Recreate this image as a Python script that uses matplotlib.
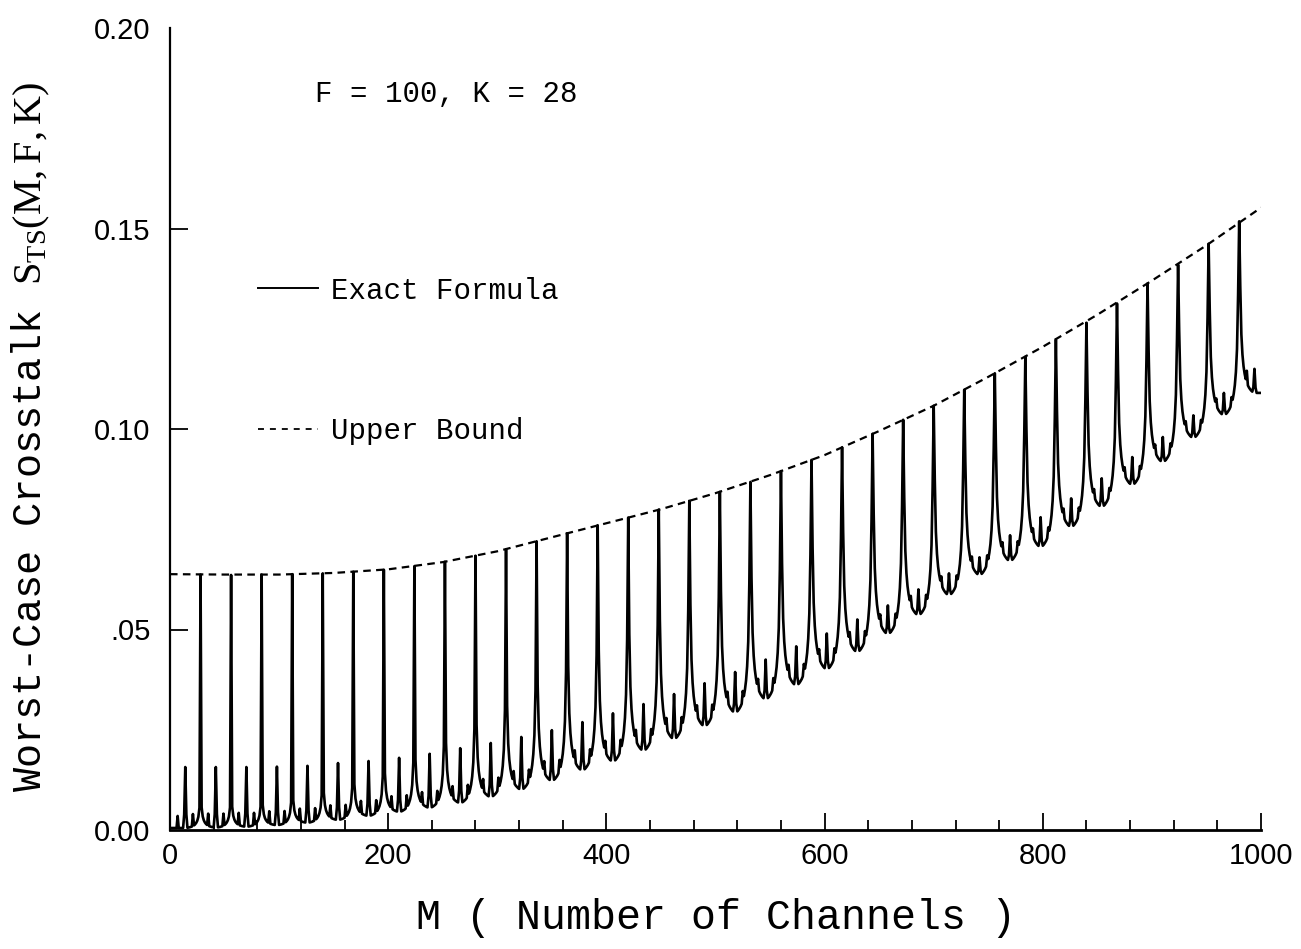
import numpy as np
import matplotlib
matplotlib.use("Agg")
import matplotlib.pyplot as plt
from matplotlib.lines import Line2D

# ---------------- data ----------------
peak_M = [28, 56, 84, 112, 140, 168, 196, 224, 252, 280, 308, 336, 364, 392,
          420, 448, 476, 504, 532, 560, 588, 616, 644, 672, 700, 728, 756, 784,
          812, 840, 868, 896, 924, 952, 980]
peak_vals = [0.0637, 0.0636, 0.0637, 0.0638, 0.0640, 0.0644, 0.0649, 0.0658,
             0.0669, 0.0684, 0.0700, 0.0720, 0.0740, 0.0760, 0.0779, 0.0799,
             0.0821, 0.0843, 0.0868, 0.0895, 0.0923, 0.0954, 0.0988, 0.1023,
             0.1058, 0.1098, 0.1139, 0.1180, 0.1223, 0.1265, 0.1313, 0.1363,
             0.1410, 0.1462, 0.1518]
# relative height of the point next to each main peak
peak_shoulder = [0.08, 0.08, 0.08, 0.09, 0.11, 0.13, 0.16, 0.20, 0.25, 0.30,
                 0.35, 0.40, 0.44, 0.47, 0.50, 0.52, 0.54, 0.55, 0.56, 0.57,
                 0.58, 0.59, 0.60, 0.60, 0.61, 0.61, 0.62, 0.62, 0.62, 0.62,
                 0.62, 0.62, 0.62, 0.62, 0.62]
# fall-off of a peak flank, 1..13 channels away from the peak
flank_profile = [1.0, 0.55, 0.36, 0.25, 0.18, 0.13, 0.095, 0.07, 0.05,
                 0.035, 0.022, 0.012, 0.005]

# valley floor of each period (between two main peaks)
valley_vals = [0.0005, 0.0006, 0.0008, 0.0012, 0.0018, 0.0025, 0.0035, 0.0045,
               0.0055, 0.0067, 0.0082, 0.0100, 0.0122, 0.0148, 0.0170, 0.0197,
               0.0226, 0.0258, 0.0292, 0.0325, 0.0360, 0.0400, 0.0443, 0.0488,
               0.0535, 0.0585, 0.0635, 0.0670, 0.0705, 0.0755, 0.0805, 0.0860,
               0.0917, 0.0977, 0.1034, 0.1090]
# secondary spike in the middle of each period
mid_vals = [0.0157, 0.0157, 0.0157, 0.0158, 0.0160, 0.0167, 0.0172, 0.0180,
            0.0190, 0.0204, 0.0217, 0.0232, 0.0249, 0.0269, 0.0291, 0.0314,
            0.0339, 0.0366, 0.0394, 0.0425, 0.0458, 0.0490, 0.0525, 0.0560,
            0.0600, 0.0640, 0.0680, 0.0735, 0.0780, 0.0827, 0.0877, 0.0930,
            0.0980, 0.1034, 0.1090, 0.1150]
# small bumps at the quarter points of each period
quarter_excess = [0.0030, 0.0030, 0.0030, 0.0030, 0.0030, 0.0030, 0.0030,
                  0.0030, 0.0028, 0.0028, 0.0028, 0.0027, 0.0027, 0.0026,
                  0.0026, 0.0025, 0.0025, 0.0024, 0.0024, 0.0023, 0.0023,
                  0.0022, 0.0022, 0.0021, 0.0021, 0.0020, 0.0020, 0.0020,
                  0.0019, 0.0019, 0.0018, 0.0018, 0.0018, 0.0017, 0.0017,
                  0.0030]

# upper bound
bound_M = [0, 50, 100, 150, 200, 250, 300, 350, 400, 450, 500, 550, 600, 650,
           700, 750, 800, 850, 900, 950, 1000]
bound_vals = [0.0638, 0.0637, 0.0637, 0.0641, 0.0650, 0.0668, 0.0695, 0.0730,
              0.0765, 0.0800, 0.0840, 0.0885, 0.0935, 0.0995, 0.1058, 0.1130,
              0.1205, 0.1285, 0.1370, 0.1458, 0.1552]

x_ticks = [0, 200, 400, 600, 800, 1000]
y_ticks = [0.00, 0.05, 0.10, 0.15, 0.20]
y_ticklabels = ["0.00", ".05", "0.10", "0.15", "0.20"]

# ---------------- assemble exact-formula curve from the read points ----------------
period = peak_M[0]
M_all = []
S_all = []
for m in range(1, 1001):
    j = m // period
    off = m - j * period
    if off == 0:
        M_all.append(m)
        S_all.append(peak_vals[j - 1])
        continue
    base = valley_vals[j]
    val = base
    if j >= 1 and off - 1 < len(flank_profile):
        val += (peak_vals[j - 1] - base) * peak_shoulder[j - 1] * flank_profile[off - 1]
    dR = period - off
    if j < len(peak_vals) and dR - 1 < len(flank_profile):
        val += (peak_vals[j] - base) * peak_shoulder[j] * flank_profile[dR - 1]
    if off == period // 2:
        val = max(val, mid_vals[j])
    elif abs(off - period // 2) == 1:
        val += (mid_vals[j] - base) * 0.22
    if off in (period // 4, 3 * period // 4):
        val += quarter_excess[j]
    M_all.append(m)
    S_all.append(val)

# ---------------- figure ----------------
plt.rcParams["mathtext.fontset"] = "custom"
plt.rcParams["mathtext.rm"] = "Liberation Serif"
plt.rcParams["mathtext.it"] = "Liberation Serif:italic"

fig = plt.figure(figsize=(13.01, 9.49), dpi=100)
ax = fig.add_axes([170 / 1301, 119 / 949, 1091 / 1301, 802 / 949])

ax.plot(M_all, S_all, color="black", lw=1.9, solid_joinstyle="round")
ax.plot(bound_M, bound_vals, color="black", lw=1.6, linestyle=(0, (3.4, 2.4)))

ax.set_xlim(0, 1000)
ax.set_ylim(0, 0.20)
for s in ("top", "right"):
    ax.spines[s].set_visible(False)
ax.spines["left"].set_linewidth(1.6)
ax.spines["bottom"].set_linewidth(2.0)

ax.set_xticks(x_ticks)
ax.set_xticks(np.arange(40, 1000, 40), minor=True)
ax.set_yticks(y_ticks)
ax.set_yticklabels(y_ticklabels)
ax.tick_params(axis="x", which="major", direction="in", length=12, width=1.3,
               pad=9, labelsize=21)
ax.tick_params(axis="x", which="minor", direction="in", length=7, width=1.3)
ax.tick_params(axis="y", which="major", direction="in", length=13, width=1.3,
               pad=14, labelsize=21)
for lab in ax.get_xticklabels() + ax.get_yticklabels():
    lab.set_family("Liberation Sans")
yt = ax.yaxis.get_major_ticks()
yt[0].tick1line.set_visible(False)
yt[-1].tick1line.set_visible(False)
xt = ax.xaxis.get_major_ticks()
xt[0].tick1line.set_visible(False)

ax.set_xlabel("M ( Number of Channels )", family="Liberation Mono", fontsize=30)
ax.xaxis.set_label_coords(0.5, -0.085)
ax.set_ylabel(r"Worst-Case Crosstalk $\mathrm{S_{TS}(M,F,K)}$",
              family="Liberation Mono", fontsize=29)
ax.yaxis.set_label_coords(-0.108, 0.49)

ax.text(0.133, 0.918, "F = 100, K = 28", transform=ax.transAxes,
        family="Liberation Mono", fontsize=21, va="center", ha="left")

handles = [Line2D([], [], color="black", lw=1.4),
           Line2D([], [], color="black", lw=1.3, linestyle=(0, (3.3, 3.3)))]
leg = ax.legend(handles, ["Exact Formula", "Upper Bound"], loc="upper left",
                bbox_to_anchor=(0.0807, 0.69), frameon=False,
                prop={"family": "Liberation Mono", "size": 21},
                handlelength=2.05, handletextpad=0.45, labelspacing=3.85,
                borderpad=0, borderaxespad=0)

fig.savefig("out.png", dpi=100)
